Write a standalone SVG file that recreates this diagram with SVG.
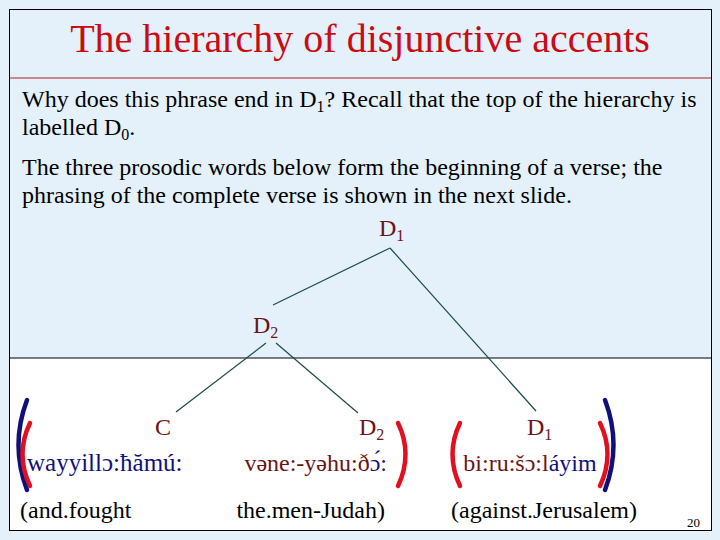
<svg xmlns="http://www.w3.org/2000/svg" width="720" height="540" viewBox="0 0 720 540" font-family="'Liberation Serif', 'DejaVu Serif', serif">
<style>
text{font-family:'Liberation Serif', 'DejaVu Serif', serif}
.b{font-size:24px;fill:#000}
.t{font-size:25px}
.l{font-size:24px;fill:#6b1414}
.sub{font-size:16px}
.e{stroke:#1e4a48;stroke-width:1.2;fill:none}
.rb{stroke:#e01020;stroke-width:4.5;fill:none;stroke-linecap:round}
.bb{stroke:#10107a;stroke-width:4.5;fill:none;stroke-linecap:round}
</style>
<rect width="720" height="540" fill="#e4f1fb"/>
<rect x="9.5" y="9.5" width="702" height="521" fill="#ffffff" stroke="#000"/>
<rect x="10" y="10" width="701" height="348" fill="#e4f1fb"/>
<line x1="10" y1="358" x2="711" y2="358" stroke="#000" stroke-width="1"/>
<line x1="10" y1="78" x2="711" y2="78" stroke="#b02020" stroke-width="1.2"/>
<text x="360" y="52" text-anchor="middle" font-size="40" fill="#cc0a14">The hierarchy of disjunctive accents</text>
<text class="b" x="22" y="107">Why does this phrase end in D<tspan class="sub" dy="5">1</tspan><tspan dy="-5">?  Recall that the top of the hierarchy is</tspan></text>
<text class="b" x="22" y="135">labelled D<tspan class="sub" dy="5">0</tspan><tspan dy="-5">.</tspan></text>
<text class="b" x="22" y="175">The three prosodic words below form the beginning of a verse; the</text>
<text class="b" x="22" y="203">phrasing of the complete verse is shown in the next slide.</text>
<g id="connectors">
<line class="e" x1="390" y1="248" x2="273" y2="305"/>
<line class="e" x1="390" y1="248" x2="536" y2="411"/>
<line class="e" x1="266" y1="343" x2="176" y2="412"/>
<line class="e" x1="276" y1="343" x2="358" y2="413"/>
</g>
<g id="n-d1top"><text class="l" x="379" y="236">D<tspan class="sub" dy="5">1</tspan></text></g>
<g id="n-d2mid"><text class="l" x="253" y="333">D<tspan class="sub" dy="5">2</tspan></text></g>
<g id="n-c"><text class="l" x="155" y="435">C</text>
<text class="b t" x="27" y="471" style="fill:#10107a">wayyillɔ:ħămú:</text>
<text class="b" x="20" y="518">(and.fought</text></g>
<g id="n-d2"><text class="l" x="359" y="435">D<tspan class="sub" dy="5">2</tspan></text>
<text class="l t" x="387" y="471" text-anchor="end">vəne:-yəhu:ð<tspan style="fill:#10107a">ɔ́:</tspan></text>
<text class="b" x="385" y="518" text-anchor="end">the.men-Judah)</text></g>
<g id="n-d1"><text class="l" x="527" y="435">D<tspan class="sub" dy="5">1</tspan></text>
<text class="l t" x="530" y="471" text-anchor="middle">bi:ru:šɔ:l<tspan style="fill:#10107a">áyim</tspan></text>
<text class="b" x="544" y="518" text-anchor="middle">(against.Jerusalem)</text></g>
<g id="brackets">
<path class="bb" d="M27 400 Q10 445 27 490"/>
<path class="bb" d="M605 400 Q622 445 605 490"/>
<path class="rb" d="M30 423 Q15 454 30 486"/>
<path class="rb" d="M398 423 Q413 454 398 486"/>
<path class="rb" d="M460 423 Q445 454 460 486"/>
<path class="rb" d="M600 423 Q615 454 600 486"/>
</g>
<text x="700" y="527" text-anchor="end" font-size="13" fill="#000">20</text>
</svg>
